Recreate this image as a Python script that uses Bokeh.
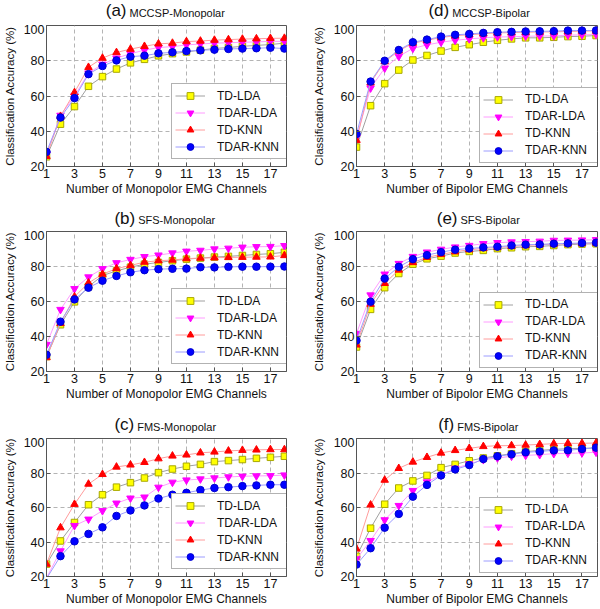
import numpy as np
from bokeh.plotting import figure
from bokeh.models import Range1d, FixedTicker, Legend, LegendItem
from bokeh.core.properties import value
from bokeh.layouts import column, row
from bokeh.embed import file_html
from bokeh.resources import INLINE

channels = list(range(1, 19))
x_ticks = [1, 3, 5, 7, 9, 11, 13, 15, 17]
y_ticks = [20, 40, 60, 80, 100]
series_names = ["TD-LDA", "TDAR-LDA", "TD-KNN", "TDAR-KNN"]

# (a) MCCSP-Monopolar
a_td_lda = [25.5, 44, 54, 65.5, 71, 75.3, 78.8, 80.8, 82.8, 84, 85, 86, 87, 87.5, 88.2, 88.7, 89.2, 90]
a_tdar_lda = [27, 49, 60, 73, 78, 81.5, 84, 86, 87.5, 88, 89, 89.5, 90, 90.2, 90.5, 90.7, 91, 91]
a_td_knn = [25.8, 48.5, 62, 76.3, 81.5, 84.7, 86.6, 88.2, 89.6, 90, 90.9, 91.2, 91.7, 92, 92.3, 92.5, 92.7, 92.8]
a_tdar_knn = [28.3, 47.8, 58.8, 72.4, 77, 80.2, 82.3, 82.9, 84.2, 84.8, 85.5, 85.9, 86.3, 86.7, 86.9, 87.1, 87.4, 86.9]

# (d) MCCSP-Bipolar
d_td_lda = [31, 54.5, 67, 74.7, 80.4, 83, 85.5, 87.6, 89.1, 90.5, 91.6, 92.4, 93, 93, 93.3, 93.7, 93.9, 94.3]
d_tdar_lda = [36.5, 64.5, 75.8, 82.5, 87, 89, 90.5, 91.6, 92.4, 93, 93.5, 93.6, 93.9, 94, 94.1, 94.5, 94.7, 94.9]
d_td_knn = [34.9, 67.5, 79.5, 85.6, 90, 91.6, 93.2, 94.2, 94.8, 95.3, 95.8, 96, 96.2, 96.3, 96.4, 96.6, 96.8, 96.9]
d_tdar_knn = [38.5, 68.2, 80, 86.1, 90.5, 92, 93.7, 94.7, 95.2, 95.8, 96.2, 96.4, 96.6, 96.7, 96.8, 97.1, 97.1, 97.2]

# (b) SFS-Monopolar
b_td_lda = [28.5, 46.7, 59.8, 68.5, 74.8, 77.5, 79.6, 81.3, 82.3, 83.3, 84.2, 84.8, 85.4, 85.8, 86.3, 86.9, 87.3, 88.1]
b_tdar_lda = [35.4, 55.4, 67.3, 74, 78.7, 82.1, 84, 85.6, 86.5, 87.7, 88.7, 89.2, 90, 90.4, 91, 91.3, 91.4, 91.9]
b_td_knn = [28, 47.5, 62.7, 70.6, 75.6, 78.8, 80.6, 82.5, 83.3, 83.7, 84.5, 84.8, 85, 85.2, 85.3, 85.4, 85.5, 86.3]
b_tdar_knn = [29.6, 48.5, 61.2, 67.9, 71.9, 74.6, 76.7, 77.9, 78.5, 78.7, 78.8, 79.6, 79.5, 79.8, 79.9, 79.9, 79.9, 80]

# (e) SFS-Bipolar
e_td_lda = [34, 55.5, 67.9, 76, 81.3, 84.4, 85.9, 87.7, 88.6, 89.2, 90.2, 90.7, 91.3, 91.5, 92, 92.5, 92.8, 93]
e_tdar_lda = [41.7, 63.7, 75.6, 81.7, 85.7, 88.2, 89.8, 91.1, 92, 93, 93.6, 94, 94.2, 94.4, 94.9, 95, 95.1, 95.3]
e_td_knn = [35.2, 58.5, 70.4, 78, 82.3, 85.2, 86.9, 88.4, 89.6, 90.3, 90.9, 91.5, 92, 92.5, 92.8, 93, 93.2, 93.4]
e_tdar_knn = [37.7, 59.9, 73.1, 79.8, 84.2, 86.5, 88.2, 89.6, 90.3, 90.9, 91.3, 92, 92.5, 92.6, 93, 93.2, 93.4, 93.6]

# (c) FMS-Monopolar
c_td_lda = [27.2, 40.6, 51.3, 61.6, 67.4, 71.8, 74.4, 77.1, 80.2, 82.3, 83.9, 85, 86.6, 87.2, 87.8, 88.5, 89.1, 89.7]
c_tdar_lda = [19.2, 34.8, 49.5, 53.2, 58.1, 62.5, 65.4, 66, 71.7, 74.6, 75.9, 76.5, 77.1, 77.7, 78.1, 78.3, 78.4, 78.8]
c_td_knn = [27.2, 48.3, 61.9, 73.6, 79.2, 83.5, 84.7, 86.2, 88.3, 89.9, 90.5, 91.7, 92.2, 92.8, 93.2, 93.4, 93.6, 93.6]
c_tdar_knn = [18.8, 31.8, 40.4, 44.7, 48.5, 55.1, 58.3, 61.2, 65.2, 67.4, 68.5, 70.1, 71.3, 71.8, 72.4, 72.8, 73.2, 73.2]

# (f) FMS-Bipolar
f_td_lda = [31.7, 48, 61.9, 71.3, 75.4, 78.6, 83.1, 85, 87.1, 88.7, 90, 91.2, 92.4, 93.1, 93.7, 94.1, 94.3, 94.5]
f_tdar_lda = [30.2, 40.8, 52.8, 61.1, 69.8, 74.8, 78.8, 82.7, 85.2, 87.7, 88.7, 89.7, 90.2, 90.6, 91.2, 91.4, 91.6, 92]
f_td_knn = [36, 61.5, 75.9, 82.7, 86.4, 89.1, 91.6, 93.1, 94.3, 95.4, 95.8, 95.9, 96.2, 96.6, 97, 97.2, 97.2, 97.4]
f_tdar_knn = [26.9, 36.4, 48.3, 56.3, 66.3, 73.1, 78.6, 82.1, 84.6, 88.1, 89.7, 90.8, 92, 92.5, 93.1, 93.2, 93.9, 94.7]

FONT = "Liberation Sans"

STYLES = [
    dict(line="#a0a0a0", marker="square", fill="#ffff00", edge="#a8a800", size=6.5),
    dict(line="#ff9cff", marker="inverted_triangle", fill="#ff00ff", edge="#ff00ff", size=7.5),
    dict(line="#ff9c9c", marker="triangle", fill="#ff0000", edge="#ff0000", size=7.5),
    dict(line="#9c9cff", marker="circle", fill="#0000ff", edge="#0000d0", size=7.5),
]

COLS = [
    dict(width=300, bl=43, br=14, lab_standoff=5, leg_bottom=7, xmax=18.15,
         name_off=[-35.5, -26.8, -27.8]),
    dict(width=300, bl=56, br=3, lab_standoff=6, leg_bottom=3.5, xmax=18.1,
         name_off=[-24.8, -16.5, -19.8]),
]
ROWS = [
    dict(title_h=24, base=8, height=183, bt=1, bb=41),
    dict(title_h=23, base=6.5, height=184, bt=1, bb=43),
    dict(title_h=23, base=7, height=171, bt=1, bb=32),
]

panels = [
    [("(a)", "MCCSP-Monopolar", "Number of Monopolor EMG Channels", [a_td_lda, a_tdar_lda, a_td_knn, a_tdar_knn]),
     ("(d)", "MCCSP-Bipolar", "Number of Bipolor EMG Channels", [d_td_lda, d_tdar_lda, d_td_knn, d_tdar_knn])],
    [("(b)", "SFS-Monopolar", "Number of Monopolor EMG Channels", [b_td_lda, b_tdar_lda, b_td_knn, b_tdar_knn]),
     ("(e)", "SFS-Bipolar", "Number of Bipolor EMG Channels", [e_td_lda, e_tdar_lda, e_td_knn, e_tdar_knn])],
    [("(c)", "FMS-Monopolar", "Number of Monopolor EMG Channels", [c_td_lda, c_tdar_lda, c_td_knn, c_tdar_knn]),
     ("(f)", "FMS-Bipolar", "Number of Bipolor EMG Channels", [f_td_lda, f_tdar_lda, f_td_knn, f_tdar_knn])],
]


def make_title(ri, ci, prefix, name):
    cs, rs = COLS[ci], ROWS[ri]
    w, h = cs["width"], rs["title_h"]
    t = figure(width=w, height=h, output_backend="svg", toolbar_location=None,
               x_range=Range1d(0, w), y_range=Range1d(0, h),
               x_axis_type=None, y_axis_type=None,
               min_border_left=0, min_border_right=0, min_border_top=0, min_border_bottom=0)
    t.title.visible = False
    t.outline_line_color = None
    t.grid.visible = False
    t.background_fill_color = "white"
    t.border_fill_color = "white"
    fw = w - cs["bl"] - cs["br"]
    nx = cs["bl"] + fw / 2 + cs["name_off"][ri]
    base = rs["base"]
    t.text(x=[nx - 3], y=[base + 6], text=[prefix], text_align="right", text_baseline="middle",
           text_font=value(FONT), text_font_size="17px", text_color="#111111")
    t.text(x=[nx], y=[base + 4], text=[name], text_align="left", text_baseline="middle",
           text_font=value(FONT), text_font_size="11px", text_color="#111111")
    return t


def make_panel(ri, ci, prefix, name, xlabel, series):
    cs, rs = COLS[ci], ROWS[ri]
    p = figure(width=cs["width"], height=rs["height"], output_backend="svg", toolbar_location=None,
               x_range=Range1d(1, cs["xmax"]), y_range=Range1d(20, 100),
               min_border_left=cs["bl"], min_border_right=cs["br"],
               min_border_top=rs["bt"], min_border_bottom=rs["bb"])
    p.title.visible = False
    p.background_fill_color = "white"
    p.border_fill_color = "white"
    p.outline_line_color = "#555555"
    p.outline_line_width = 1

    for ax in (p.xaxis[0], p.yaxis[0]):
        ax.axis_line_color = "#555555"
        ax.major_tick_line_color = "#555555"
        ax.major_tick_in = 4
        ax.major_tick_out = 0
        ax.minor_tick_line_color = None
        ax.major_label_text_font = FONT
        ax.major_label_text_font_size = "12.5px"
        ax.major_label_text_color = "#111111"
        ax.axis_label_text_font = FONT
        ax.axis_label_text_font_style = "normal"
        ax.axis_label_text_color = "#111111"
    p.xaxis.ticker = FixedTicker(ticks=x_ticks)
    p.yaxis.ticker = FixedTicker(ticks=y_ticks)
    p.xaxis.axis_label = xlabel
    p.xaxis.axis_label_text_font_size = "12px"
    p.xaxis.major_label_standoff = 2
    p.xaxis.axis_label_standoff = 1
    p.yaxis.axis_label = "Classification Accuracy (%)"
    p.yaxis.axis_label_text_font_size = "11.5px"
    p.yaxis.major_label_standoff = 2
    p.yaxis.axis_label_standoff = cs["lab_standoff"]

    for g in (p.xgrid[0], p.ygrid[0]):
        g.grid_line_color = "#b4b4b4"
        g.grid_line_dash = "4 3"
        g.grid_line_width = 1
    p.xgrid.ticker = FixedTicker(ticks=x_ticks)
    p.ygrid.ticker = FixedTicker(ticks=y_ticks)

    items = []
    for lbl, vals, st in zip(series_names, series, STYLES):
        y = np.array(vals, dtype=float)
        ln = p.line(channels, y, line_color=st["line"], line_width=1)
        ym = np.where(y >= 20, y, np.nan)
        sc = p.scatter(channels, ym, marker=st["marker"], size=st["size"],
                       fill_color=st["fill"], line_color=st["edge"], line_width=1)
        items.append(LegendItem(label=lbl, renderers=[ln, sc]))

    fw = cs["width"] - cs["bl"] - cs["br"]
    pad, gw, gh, stand, lw = 3, 30, 17, 12, 70
    leg_w = 2 * pad + gw + stand + lw
    legend = Legend(items=items, location=(fw - leg_w, cs["leg_bottom"]),
                    padding=pad, spacing=0, margin=0,
                    glyph_width=gw, glyph_height=gh, label_height=gh, label_width=lw,
                    label_standoff=stand, label_text_font=FONT, label_text_font_size="12px",
                    label_text_color="#111111", border_line_color="#666666", border_line_width=1,
                    background_fill_color="white", background_fill_alpha=1.0)
    p.add_layout(legend, "center")
    return p


blocks = []
for ri, prow in enumerate(panels):
    titles = [make_title(ri, ci, spec[0], spec[1]) for ci, spec in enumerate(prow)]
    figs = [make_panel(ri, ci, *spec) for ci, spec in enumerate(prow)]
    blocks.append(row(*titles, spacing=0))
    blocks.append(row(*figs, spacing=0))
layout = column(*blocks, spacing=0)

open("out.html", "w").write(file_html(layout, INLINE))
